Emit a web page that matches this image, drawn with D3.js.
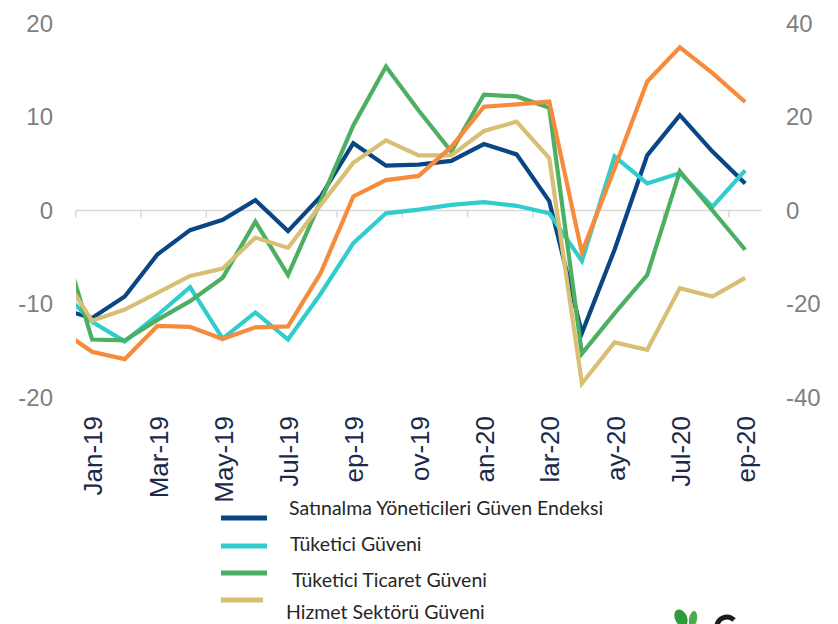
<!DOCTYPE html>
<html>
<head>
<meta charset="utf-8">
<script src="https://cdnjs.cloudflare.com/ajax/libs/d3/7.8.5/d3.min.js"></script>
<style>
  body { margin: 0; background: #fff; }
  svg { display: block; }
</style>
</head>
<body>
<svg width="838" height="624"></svg>
<script>
// monthly data, Dec-18 is only partly visible at the left edge
var months = ["Dec-18", "Jan-19", "Feb-19", "Mar-19", "Apr-19", "May-19", "Jun-19", "Jul-19", "Aug-19", "Sep-19", "Oct-19", "Nov-19",
  "Dec-19", "Jan-20", "Feb-20", "Mar-20", "Apr-20", "May-20", "Jun-20", "Jul-20", "Aug-20", "Sep-20"];

// shown labels (cut off on the slide)
var tickLabels = ["Jan-19", "Mar-19", "May-19", "Jul-19", "ep-19", "ov-19", "an-20", "lar-20", "ay-20", "Jul-20", "ep-20"];
var tickMonths = ["Jan-19", "Mar-19", "May-19", "Jul-19", "Sep-19", "Nov-19", "Jan-20", "Mar-20", "May-20", "Jul-20", "Sep-20"];

var leftTicks = [20, 10, 0, -10, -20];
var rightTicks = [40, 20, 0, -20, -40];

// left axis
var satinalma = [-10.5, -11.5, -9.2, -4.7, -2.1, -1.0, 1.1, -2.2, 1.5, 7.2, 4.8, 4.9, 5.3, 7.1, 6.0, 1.0, -13.1, -4.2, 5.9, 10.2, 6.3, 2.9];
var tuketici = [-8.3, -11.9, -14.0, -11.2, -8.2, -13.7, -10.9, -13.8, -8.9, -3.5, -0.3, 0.1, 0.6, 0.9, 0.5, -0.3, -5.4, 5.8, 2.9, 4.0, 0.4, 4.3];
var ticaret = [-2.1, -13.8, -13.9, -11.7, -9.7, -7.2, -1.2, -6.9, 1.0, 9.1, 15.4, 10.7, 6.3, 12.4, 12.2, 11.0, -15.3, -11.0, -6.9, 4.2, 0.0, -4.2];
var hizmet = [-6.4, -11.8, -10.6, -8.8, -7.0, -6.2, -2.9, -4.0, 0.6, 5.1, 7.5, 5.9, 5.9, 8.5, 9.5, 5.6, -18.5, -14.1, -14.9, -8.3, -9.2, -7.2];
// right axis
var diger = [-25.4, -30.2, -31.8, -24.7, -24.9, -27.5, -25.0, -24.8, -13.4, 3.0, 6.5, 7.4, 13.6, 22.2, 22.7, 23.3, -9.0, 9.0, 27.6, 34.9, 29.4, 23.2];

var series = [
  { name: "Satınalma Yöneticileri Güven Endeksi", values: satinalma, color: "#0a4683", axis: "left" },
  { name: "Tüketici Güveni", values: tuketici, color: "#31cdcd", axis: "left" },
  { name: "Tüketici Ticaret Güveni", values: ticaret, color: "#4caf62", axis: "left" },
  { name: "Hizmet Sektörü Güveni", values: hizmet, color: "#d8bf74", axis: "left" },
  { name: "", values: diger, color: "#f68b3b", axis: "right" }
];

var svg = d3.select("svg");

var x = d3.scaleBand()
    .domain(months)
    .range([43.1, 761.5])
    .padding(0);

var yLeft = d3.scaleLinear()
    .domain([-20, 20])
    .range([397.5, 23.5]);

var yRight = d3.scaleLinear()
    .domain([-40, 40])
    .range([397.5, 23.5]);

var cx = function(m) { return x(m) + x.bandwidth() / 2; };

svg.append("defs").append("clipPath")
    .attr("id", "plot")
    .append("rect")
    .attr("x", 76)
    .attr("y", 0)
    .attr("width", 700)
    .attr("height", 420);

// zero line with ticks between every two months
svg.append("line")
    .attr("x1", x("Jan-19"))
    .attr("x2", x.range()[1])
    .attr("y1", yLeft(0))
    .attr("y2", yLeft(0))
    .style("stroke", "#d9d9d9")
    .style("stroke-width", 1.5);

svg.append("g")
    .selectAll("line")
    .data(tickMonths)
    .enter().append("line")
    .attr("x1", (d) => x(d))
    .attr("x2", (d) => x(d))
    .attr("y1", yLeft(0))
    .attr("y2", yLeft(0) + 7)
    .style("stroke", "#d9d9d9")
    .style("stroke-width", 1.5);

svg.append("g")
    .selectAll("text")
    .data(leftTicks)
    .enter().append("text")
    .attr("x", 53)
    .attr("y", (d) => yLeft(d))
    .attr("dy", "0.35em")
    .attr("text-anchor", "end")
    .style("font-family", "'Liberation Sans', Arial, sans-serif")
    .style("font-size", "24px")
    .style("fill", "#7f7f7f")
    .text((d) => d);

svg.append("g")
    .selectAll("text")
    .data(rightTicks)
    .enter().append("text")
    .attr("x", 786)
    .attr("y", (d) => yRight(d))
    .attr("dy", "0.35em")
    .attr("text-anchor", "start")
    .style("font-family", "'Liberation Sans', Arial, sans-serif")
    .style("font-size", "24px")
    .style("fill", "#7f7f7f")
    .text((d) => d);

svg.append("g")
    .selectAll("text")
    .data(tickMonths)
    .enter().append("text")
    .attr("transform", (d) => "translate(" + (cx(d) + 1) + ",416) rotate(-90)")
    .attr("dy", "0.35em")
    .attr("text-anchor", "end")
    .style("font-family", "'Liberation Sans', Arial, sans-serif")
    .style("font-size", "26px")
    .style("fill", "#1b2a4a")
    .text((d, i) => tickLabels[i]);

var lines = svg.append("g")
    .attr("clip-path", "url(#plot)");

series.forEach(function(s) {
    var y = s.axis == "left" ? yLeft : yRight;
    var line = d3.line()
        .x((d, i) => cx(months[i]))
        .y((d) => y(d));
    lines.append("path")
        .datum(s.values)
        .attr("d", line)
        .style("fill", "none")
        .style("stroke", s.color)
        .style("stroke-width", 4.2)
        .style("stroke-linejoin", "miter");
});

// legend
var legendPos = [
  { ly: 518, ty: 508, tx: 289, len: 46 },
  { ly: 546, ty: 544, tx: 290, len: 46 },
  { ly: 573, ty: 580, tx: 292, len: 46 },
  { ly: 600, ty: 612, tx: 286, len: 42 }
];

var legend = svg.append("g")
    .attr("class", "legend");

legendPos.forEach(function(p, i) {
    legend.append("line")
        .attr("x1", 221)
        .attr("x2", 221 + p.len)
        .attr("y1", p.ly)
        .attr("y2", p.ly)
        .style("stroke", series[i].color)
        .style("stroke-width", 5);
    legend.append("text")
        .attr("x", p.tx)
        .attr("y", p.ty)
        .attr("dy", "0.35em")
        .style("font-family", "Lato, 'Open Sans', sans-serif")
        .style("font-size", "19.5px")
        .style("fill", "#262626")
        .text(series[i].name);
});

// logo fragment, bottom right corner
var logo = svg.append("g")
    .attr("transform", "translate(672,606)");
logo.append("ellipse")
    .attr("cx", 9).attr("cy", 12).attr("rx", 6).attr("ry", 9)
    .attr("transform", "rotate(-25,9,12)")
    .style("fill", "#2e9b3a");
logo.append("ellipse")
    .attr("cx", 21).attr("cy", 13).attr("rx", 4).attr("ry", 8)
    .attr("transform", "rotate(10,21,13)")
    .style("fill", "#45b04a");
logo.append("path")
    .attr("d", "M62,14 A10,10 0 0 0 45,22 L45,30")
    .style("fill", "none")
    .style("stroke", "#1d1d1b")
    .style("stroke-width", 5);
</script>
</body>
</html>
